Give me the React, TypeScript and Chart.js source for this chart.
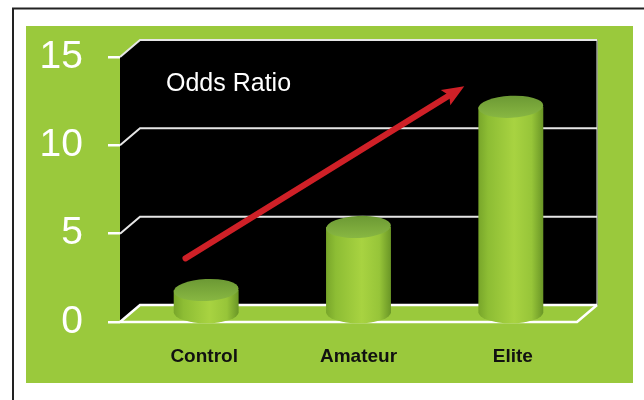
import { useEffect, useRef } from 'react';
import { Chart, registerables } from 'chart.js';

Chart.register(...registerables);

// ---- data ----
const categories = ['Control', 'Amateur', 'Elite'];
const oddsRatio = [1.33, 4.9, 11.7];
const yTickValues = [0, 5, 10, 15];
const panelLabel = 'Odds Ratio';
// arrow annotation in data coordinates: [category index, value]
const arrowStart = [-0.07, 3.6];
const arrowEnd = [1.76, 13.35];

// ---- style ----
const GREEN = '#9ac93c';
const DX = 20;
const DY = 17;

const frame3d = {
  id: 'frame3d',
  beforeDraw(chart: any) {
    const { ctx, width, height } = chart;
    ctx.save();
    ctx.fillStyle = '#ffffff';
    ctx.fillRect(0, 0, width, height);
    ctx.strokeStyle = '#222222';
    ctx.lineWidth = 2;
    ctx.beginPath();
    ctx.moveTo(13, height);
    ctx.lineTo(13, 8.5);
    ctx.lineTo(width, 8.5);
    ctx.stroke();
    ctx.fillStyle = GREEN;
    ctx.fillRect(26, 26, 607, 357);
    ctx.restore();
  },
  beforeDatasetsDraw(chart: any) {
    const { ctx, chartArea: a, scales } = chart;
    const y = scales.y;
    ctx.save();
    // back wall
    ctx.fillStyle = '#000000';
    ctx.fillRect(a.left + DX, a.top - DY, a.right - a.left, a.bottom - a.top);
    // side wall
    ctx.beginPath();
    ctx.moveTo(a.left, a.top);
    ctx.lineTo(a.left + DX, a.top - DY);
    ctx.lineTo(a.left + DX, a.bottom - DY);
    ctx.lineTo(a.left, a.bottom);
    ctx.closePath();
    ctx.fill();
    // floor
    ctx.fillStyle = GREEN;
    ctx.beginPath();
    ctx.moveTo(a.left, a.bottom);
    ctx.lineTo(a.left + DX, a.bottom - DY);
    ctx.lineTo(a.right + DX, a.bottom - DY);
    ctx.lineTo(a.right, a.bottom);
    ctx.closePath();
    ctx.fill();
    // right edge of back wall
    ctx.strokeStyle = '#9a9a9a';
    ctx.lineWidth = 1.5;
    ctx.beginPath();
    ctx.moveTo(a.right + DX, a.top - DY);
    ctx.lineTo(a.right + DX, a.bottom - DY);
    ctx.stroke();
    // gridlines on side + back wall
    y.ticks.forEach((t: any) => {
      const py = y.getPixelForValue(t.value);
      ctx.strokeStyle = t.value === 0 ? '#ffffff' : '#e6e6e6';
      ctx.lineWidth = t.value === 0 ? 2.5 : 2;
      ctx.beginPath();
      ctx.moveTo(a.left, py);
      ctx.lineTo(a.left + DX, py - DY);
      ctx.lineTo(a.right + DX, py - DY);
      ctx.stroke();
    });
    // floor front edge + right slant
    ctx.strokeStyle = '#ffffff';
    ctx.lineWidth = 2.5;
    ctx.beginPath();
    ctx.moveTo(a.left, a.bottom);
    ctx.lineTo(a.right, a.bottom);
    ctx.lineTo(a.right + DX, a.bottom - DY);
    ctx.stroke();
    ctx.restore();
  },
  afterDatasetsDraw(chart: any) {
    const { ctx, scales } = chart;
    const meta = chart.getDatasetMeta(0);
    ctx.save();
    meta.data.forEach((bar: any) => {
      const { x, y: top, base, width } = bar.getProps(['x', 'y', 'base', 'width'], true);
      const cx = x + DX / 2;
      const rx = width / 2;
      const ry = 11;
      const topY = top - DY / 2;
      const botY = base - DY / 2;
      const g = ctx.createLinearGradient(cx - rx, 0, cx + rx, 0);
      g.addColorStop(0, '#78a62a');
      g.addColorStop(0.15, '#8dbd34');
      g.addColorStop(0.55, '#a8d341');
      g.addColorStop(0.82, '#97c539');
      g.addColorStop(1, '#6a9626');
      ctx.fillStyle = g;
      ctx.beginPath();
      ctx.moveTo(cx - rx, topY);
      ctx.lineTo(cx - rx, botY);
      ctx.ellipse(cx, botY, rx, ry, 0, Math.PI, 0, true);
      ctx.lineTo(cx + rx, topY);
      ctx.closePath();
      ctx.fill();
      const tg = ctx.createLinearGradient(0, topY - ry, 0, topY + ry);
      tg.addColorStop(0, '#6c9934');
      tg.addColorStop(1, '#88b742');
      ctx.fillStyle = tg;
      ctx.beginPath();
      ctx.ellipse(cx, topY, rx, ry, -0.05, 0, Math.PI * 2);
      ctx.fill();
    });
    // arrow
    const x0 = scales.x.getPixelForValue(arrowStart[0]);
    const y0 = scales.y.getPixelForValue(arrowStart[1]);
    const x1 = scales.x.getPixelForValue(arrowEnd[0]);
    const y1 = scales.y.getPixelForValue(arrowEnd[1]);
    const ang = Math.atan2(y1 - y0, x1 - x0);
    const headLen = 22;
    const headHalf = 9;
    const bx = x1 - headLen * 0.8 * Math.cos(ang);
    const by = y1 - headLen * 0.8 * Math.sin(ang);
    ctx.strokeStyle = '#cf2027';
    ctx.fillStyle = '#cf2027';
    ctx.lineWidth = 6;
    ctx.lineCap = 'round';
    ctx.beginPath();
    ctx.moveTo(x0, y0);
    ctx.lineTo(bx, by);
    ctx.stroke();
    const hx = x1 - headLen * Math.cos(ang);
    const hy = y1 - headLen * Math.sin(ang);
    ctx.beginPath();
    ctx.moveTo(x1, y1);
    ctx.lineTo(hx + headHalf * Math.sin(ang), hy - headHalf * Math.cos(ang));
    ctx.lineTo(bx, by);
    ctx.lineTo(hx - headHalf * Math.sin(ang), hy + headHalf * Math.cos(ang));
    ctx.closePath();
    ctx.fill();
    ctx.restore();
  },
  afterDraw(chart: any) {
    const { ctx, scales } = chart;
    ctx.save();
    ctx.fillStyle = '#ffffff';
    ctx.font = '25px "Liberation Sans", Arial, sans-serif';
    ctx.textAlign = 'left';
    ctx.textBaseline = 'alphabetic';
    ctx.fillText(panelLabel, 166, 91);
    ctx.fillStyle = '#111111';
    ctx.font = 'bold 19px "Liberation Sans", Arial, sans-serif';
    ctx.textAlign = 'center';
    categories.forEach((c, i) => {
      const px = scales.x.getPixelForValue(i) + DX / 2 - 2 + i * 2;
      ctx.fillText(c, px, 362);
    });
    ctx.restore();
  },
};

export default function App() {
  const ref = useRef<HTMLCanvasElement | null>(null);
  useEffect(() => {
    if (!ref.current) return;
    const chart = new Chart(ref.current, {
      type: 'bar',
      data: {
        labels: categories,
        datasets: [
          {
            label: panelLabel,
            data: oddsRatio,
            backgroundColor: 'rgba(0,0,0,0)',
            borderWidth: 0,
            categoryPercentage: 1,
            barPercentage: 0.426,
          },
        ],
      },
      options: {
        animation: false,
        responsive: false,
        devicePixelRatio: 1,
        layout: { padding: { left: 26, right: 67, top: 57, bottom: 78 } },
        plugins: { legend: { display: false }, tooltip: { enabled: false }, title: { display: false } },
        scales: {
          x: { display: false },
          y: {
            min: 0,
            max: 15,
            afterFit: (s: any) => {
              s.width = 94;
            },
            afterBuildTicks: (s: any) => {
              s.ticks = yTickValues.map((v) => ({ value: v }));
            },
            border: { display: false },
            grid: {
              display: true,
              drawOnChartArea: false,
              drawTicks: true,
              tickLength: 12,
              color: '#ffffff',
              lineWidth: 2.5,
            },
            ticks: {
              color: '#ffffff',
              padding: 25,
              font: { family: '"Liberation Sans", Arial, sans-serif', size: 39 },
            },
          },
        },
      },
      plugins: [frame3d],
    });
    return () => chart.destroy();
  }, []);
  return (
    <div style={{ position: 'absolute', left: 0, top: 0, width: 644, height: 400 }}>
      <canvas ref={ref} width={644} height={400} style={{ display: 'block' }} />
    </div>
  );
}
